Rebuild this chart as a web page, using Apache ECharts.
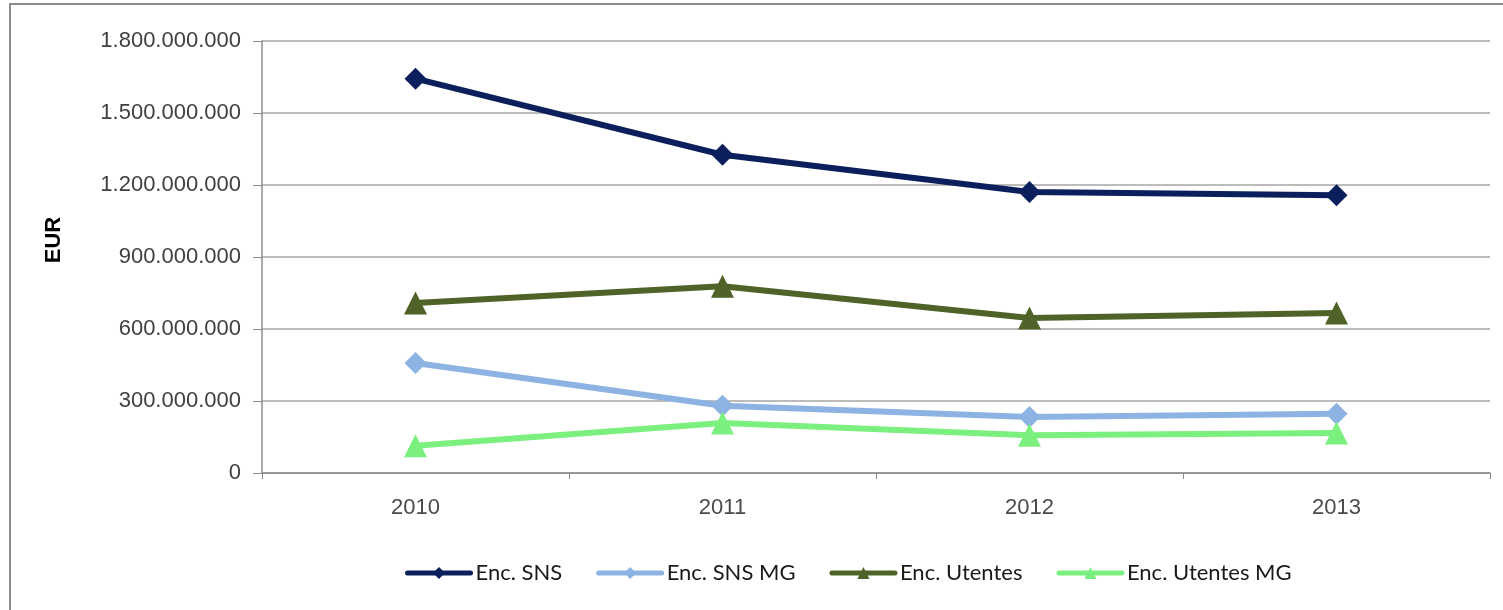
<!DOCTYPE html>
<html>
<head>
<meta charset="utf-8">
<script src="https://cdn.jsdelivr.net/npm/echarts@6/dist/echarts.min.js"></script>
<style>
html,body{margin:0;padding:0;background:#fff;}
#chart{width:1503px;height:610px;}
</style>
</head>
<body>
<div id="chart"></div>
<script>
var categories = ['2010', '2011', '2012', '2013'];
var encSNS = [1643000000, 1326000000, 1171000000, 1157000000];
var encSNSMG = [458000000, 280000000, 233000000, 247000000];
var encUtentes = [708000000, 778000000, 646000000, 667000000];
var encUtentesMG = [114000000, 208000000, 157000000, 167000000];
var seriesNames = ['Enc. SNS', 'Enc. SNS MG', 'Enc. Utentes', 'Enc. Utentes MG'];
var yTicks = { min: 0, max: 1800000000, interval: 300000000 };
var yTitle = 'EUR';

function fmt(v) {
  return String(Math.round(v)).replace(/\B(?=(\d{3})+(?!\d))/g, '.');
}

var FONT = '"Liberation Sans", Arial, sans-serif';
var LFONT = 'Lato, "Liberation Sans", sans-serif';
var chart = echarts.init(document.getElementById('chart'), null, { renderer: 'canvas' });

function mkSeries(name, data, color, symbol, size) {
  return {
    name: name, type: 'line', data: data,
    symbol: symbol, symbolSize: size, showSymbol: true,
    lineStyle: { color: color, width: 6 },
    itemStyle: { color: color },
    emphasis: { disabled: true },
    z: 3
  };
}

chart.setOption({
  animation: false,
  backgroundColor: '#fff',
  graphic: [{
    type: 'rect', silent: true, z: -1,
    shape: { x: 10, y: 4, width: 1600, height: 700 },
    style: { fill: 'none', stroke: '#8c8c8c', lineWidth: 2 }
  }, {
    type: 'text', silent: true,
    x: 54, y: 240, rotation: Math.PI / 2,
    style: {
      text: yTitle, fill: '#000', font: 'bold 22px "Liberation Sans", Arial, sans-serif',
      textAlign: 'center', textVerticalAlign: 'middle'
    }
  }],
  grid: { left: 262, right: 13, top: 41, bottom: 137, containLabel: false },
  legend: {
    data: seriesNames,
    bottom: 21, left: 400,
    itemWidth: 63, itemHeight: 15, itemGap: 34,
    lineStyle: { width: 5, cap: 'round' },
    textStyle: { fontFamily: LFONT, fontSize: 22, color: '#1a1a1a' }
  },
  xAxis: {
    type: 'category', data: categories, boundaryGap: true,
    axisLine: { lineStyle: { color: '#8c8c8c', width: 1.5 } },
    axisTick: { show: true, length: 6, inside: false, lineStyle: { color: '#8c8c8c' } },
    axisLabel: { fontFamily: FONT, fontSize: 22, color: '#4a4a4a', margin: 24 }
  },
  yAxis: {
    type: 'value', min: yTicks.min, max: yTicks.max, interval: yTicks.interval,
    axisLine: { show: true, lineStyle: { color: '#8c8c8c', width: 1.5 } },
    axisTick: { show: true, length: 9, lineStyle: { color: '#8c8c8c' } },
    splitLine: { show: true, lineStyle: { color: '#a6a6a6', width: 1.5 } },
    axisLabel: { fontFamily: FONT, fontSize: 22, color: '#404040', margin: 21, formatter: fmt }
  },
  series: [
    mkSeries(seriesNames[0], encSNS, '#0b1f5c', 'diamond', 22),
    mkSeries(seriesNames[1], encSNSMG, '#8db3e2', 'diamond', 22),
    mkSeries(seriesNames[2], encUtentes, '#4f6228', 'triangle', 23),
    mkSeries(seriesNames[3], encUtentesMG, '#7cf07f', 'triangle', 23)
  ]
});
</script>
</body>
</html>
